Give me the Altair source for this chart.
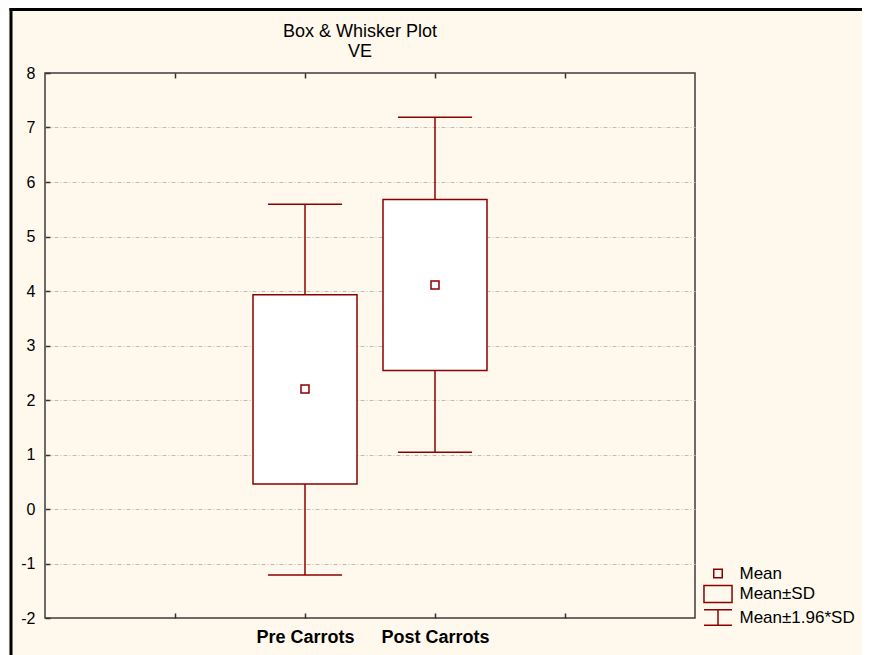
import altair as alt
import pandas as pd

# ---- data ----
categories = ["Pre Carrots", "Post Carrots"]
slots = [2, 3]                      # category position along the x axis (0..5)
means = [2.20, 4.11]
sd_low = [0.46, 2.54]
sd_high = [3.93, 5.68]
ci_low = [-1.21, 1.04]
ci_high = [5.59, 7.19]
legend_items = ["Mean", "Mean\u00b1SD", "Mean\u00b11.96*SD"]
x_ticks = [1, 2, 3, 4]
y_ticks = [-2, -1, 0, 1, 2, 3, 4, 5, 6, 7, 8]
title_lines = ["Box & Whisker Plot", "VE"]

# ---- styling ----
RED = "#8B0000"
BG = "#FFF9ED"
FONT = "Liberation Sans"
BOX_HALF = 0.4
CAP_HALF = 0.285
W, H = 650, 545

df = pd.DataFrame({
    "cat": categories, "slot": slots, "mean": means,
    "sd_low": sd_low, "sd_high": sd_high, "ci_low": ci_low, "ci_high": ci_high,
})
df["box_l"] = df["slot"] - BOX_HALF
df["box_r"] = df["slot"] + BOX_HALF

caps = pd.concat([
    pd.DataFrame({"l": df["slot"] - CAP_HALF, "r": df["slot"] + CAP_HALF, "v": df["ci_low"]}),
    pd.DataFrame({"l": df["slot"] - CAP_HALF, "r": df["slot"] + CAP_HALF, "v": df["ci_high"]}),
], ignore_index=True)

xscale = alt.Scale(domain=[0, 5], nice=False, zero=False)
yscale = alt.Scale(domain=[-2, 8], nice=False, zero=False)

label_expr = " : ".join(f"datum.value == {s} ? '{c}'" for s, c in zip(slots, categories)) + " : ''"

top_axis = alt.Axis(orient="top", values=x_ticks, labels=False, domain=False, grid=False,
                    ticks=True, tickSize=5, offset=-5, tickColor="#333333", tickWidth=1.5, title=None)
bottom_axis = alt.Axis(orient="bottom", values=x_ticks, labelExpr=label_expr, domain=False, grid=False,
                       ticks=True, tickSize=5, offset=-5, tickColor="#333333", tickWidth=1.5,
                       labelPadding=10, labelFont=FONT, labelFontSize=18, labelFontWeight="bold",
                       labelColor="black", labelOverlap=False, labelFlush=False, title=None)
left_axis = alt.Axis(orient="left", values=y_ticks, labelExpr="datum.value + ''", domain=False,
                     ticks=True, tickSize=5, offset=-5,
                     tickColor="#333333", tickWidth=1.5, labelPadding=10, labelFont=FONT,
                     labelFontSize=16, labelColor="black", labelFlush=False, labelOverlap=False,
                     grid=True, gridColor="#bcbcbc", gridDash=[4, 2, 1, 2], gridWidth=1,
                     gridOpacity={"condition": {"test": "datum.value >= 8 || datum.value <= -2", "value": 0},
                                  "value": 1},
                     title=None)

base = alt.Chart(df)

whiskers = base.mark_rule(color=RED, strokeWidth=1.5).encode(
    x=alt.X("slot:Q", scale=xscale, axis=top_axis),
    y=alt.Y("ci_low:Q", scale=yscale, axis=left_axis),
    y2="ci_high:Q",
)

cap_rules = alt.Chart(caps).mark_rule(color=RED, strokeWidth=1.5).encode(
    x=alt.X("l:Q", scale=xscale, axis=bottom_axis),
    x2="r:Q",
    y=alt.Y("v:Q", scale=yscale, axis=None),
)

boxes = base.mark_rect(fill="white", stroke=RED, strokeWidth=1.5).encode(
    x=alt.X("box_l:Q", scale=xscale, axis=None),
    x2="box_r:Q",
    y=alt.Y("sd_low:Q", scale=yscale, axis=None),
    y2="sd_high:Q",
)

mean_pts = base.mark_point(shape="square", size=64, filled=False, color=RED, strokeWidth=1.5, opacity=1).encode(
    x=alt.X("slot:Q", scale=xscale, axis=None),
    y=alt.Y("mean:Q", scale=yscale, axis=None),
)

paths = [
    "M-0.5,-0.5H0.5V0.5H-0.5Z",
    "M-1.65,-1H1.65V1H-1.65Z",
    "M-1.65,-0.9H1.65M0,-0.9V0.9M-1.65,0.9H1.65",
]
legend_layer = alt.Chart(pd.DataFrame({"item": legend_items})).mark_point(
    opacity=0, filled=False, color=RED
).encode(
    shape=alt.Shape("item:N", sort=legend_items,
                    scale=alt.Scale(domain=legend_items, range=paths),
                    legend=alt.Legend(orient="none", legendX=663.5, legendY=491, title=None,
                                      labelFont=FONT, labelFontSize=17, labelColor="black",
                                      symbolSize=289, symbolStrokeWidth=1.5, symbolStrokeColor=RED,
                                      symbolFillColor="transparent", symbolOpacity=1,
                                      labelOffset=12, rowPadding=0.5, padding=0)),
)

frame_df = pd.DataFrame({"k": [0]})
frame_left = alt.Chart(frame_df).mark_rule(color="black", strokeWidth=3).encode(
    x=alt.value(-34), y=alt.value(-65), y2=alt.value(600))
frame_top = alt.Chart(frame_df).mark_rule(color="black", strokeWidth=3).encode(
    x=alt.value(-35.5), x2=alt.value(817), y=alt.value(-63.5))

chart = alt.layer(
    whiskers, cap_rules, boxes, mean_pts, legend_layer, frame_left, frame_top
).resolve_axis(x="independent", y="independent").properties(
    width=W, height=H,
    padding={"left": 37, "top": 65, "right": 167, "bottom": 37},
    autosize=alt.AutoSizeParams(type="none"),
    background=BG,
    title=alt.TitleParams(text=title_lines, font=FONT, fontSize=18, fontWeight="normal",
                          color="black", anchor="middle", dx=-10, dy=68, offset=14, lineHeight=20),
).configure_view(fill="white", stroke="#3c3c3c", strokeWidth=1.5)

chart.save("out.html", embed_options={"renderer": "svg", "actions": False})
